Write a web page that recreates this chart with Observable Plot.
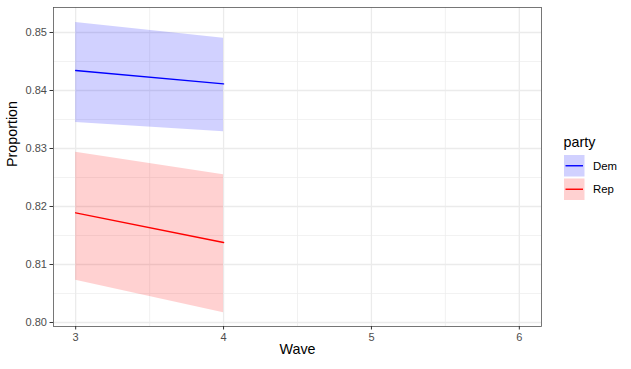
<!DOCTYPE html>
<html><head><meta charset="utf-8">
<script src="https://cdn.jsdelivr.net/npm/d3@7"></script>
<script src="https://cdn.jsdelivr.net/npm/@observablehq/plot@0.6"></script>
<style>
body{margin:0;background:#fff;font-family:"Liberation Sans",Arial,sans-serif;}
#wrap{position:relative;width:631px;height:369px;overflow:hidden;}
#legend{position:absolute;left:560px;top:130px;}
</style></head><body><div id="wrap"></div>
<script>
const parties = ["Dem", "Rep"];
const waves = [3, 4];
const demFit = [0.84345, 0.84115];
const demLower = [0.83448, 0.83288];
const demUpper = [0.85172, 0.84902];
const repFit = [0.81891, 0.81379];
const repLower = [0.80730, 0.80167];
const repUpper = [0.82937, 0.82546];
const partyColors = ["#0000ff", "#ff0000"];
const xTicks = [3, 4, 5, 6];
const yTicks = [0.80, 0.81, 0.82, 0.83, 0.84, 0.85];
const xMinor = [3.5, 4.5, 5.5];
const yMinor = [0.805, 0.815, 0.825, 0.835, 0.845];
const xLabel = "Wave";
const yLabel = "Proportion";
const legendTitle = "party";

const series = {Dem: [demFit, demLower, demUpper], Rep: [repFit, repLower, repUpper]};
const rows = [];
for (const p of parties) {
  const [fit, lo, hi] = series[p];
  waves.forEach((w, i) => rows.push({party: p, wave: w, fit: fit[i], lower: lo[i], upper: hi[i]}));
}

const chart = Plot.plot({
  width: 631,
  height: 369,
  marginLeft: 53,
  marginRight: 90,
  marginTop: 7,
  marginBottom: 43,
  style: {fontFamily: "Liberation Sans, Arial, sans-serif", background: "#fff"},
  x: {domain: [2.85, 6.15]},
  y: {domain: [0.79931, 0.85431]},
  color: {domain: parties, range: partyColors},
  marks: [
    Plot.gridX(xMinor, {stroke: "#ebebeb", strokeOpacity: 1, strokeWidth: 0.7}),
    Plot.gridY(yMinor, {stroke: "#ebebeb", strokeOpacity: 1, strokeWidth: 0.7}),
    Plot.gridX(xTicks, {stroke: "#ebebeb", strokeOpacity: 1, strokeWidth: 1.3}),
    Plot.gridY(yTicks, {stroke: "#ebebeb", strokeOpacity: 1, strokeWidth: 1.3}),
    Plot.areaY(rows, {x: "wave", y1: "lower", y2: "upper", z: "party", fill: "party", fillOpacity: 0.18}),
    Plot.line(rows, {x: "wave", y: "fit", z: "party", stroke: "party", strokeWidth: 1.4}),
    Plot.frame({stroke: "#555", strokeWidth: 0.8}),
    Plot.axisX(xTicks, {tickSize: 3.5, tickPadding: 3, fontSize: 11, color: "#4d4d4d", stroke: "#333", tickFormat: d3.format("d"), label: null}),
    Plot.axisY(yTicks, {tickSize: 3.5, tickPadding: 3, fontSize: 11, color: "#4d4d4d", stroke: "#333", tickFormat: d3.format(".2f"), label: null}),
    Plot.text([xLabel], {frameAnchor: "bottom", dy: 27.5, fontSize: 14.3, fill: "#000"}),
    Plot.text([yLabel], {frameAnchor: "left", dx: -41.5, rotate: -90, fontSize: 14.3, fill: "#000"})
  ]
});
const wrap = document.getElementById("wrap");
wrap.appendChild(chart);

const ns = "http://www.w3.org/2000/svg";
const leg = document.createElementNS(ns, "svg");
leg.setAttribute("id", "legend");
leg.setAttribute("width", 71);
leg.setAttribute("height", 80);
leg.style.fontFamily = "Liberation Sans, Arial, sans-serif";
let html = `<text x="3.5" y="16.7" font-size="14.3" fill="#000">${legendTitle}</text>`;
parties.forEach((p, i) => {
  const c = partyColors[i];
  const y0 = 25 + i * 23.5;
  html += `<rect x="4" y="${y0}" width="20.5" height="21.5" fill="${c}" fill-opacity="0.18"/>`;
  html += `<line x1="5.5" x2="23" y1="${y0 + 10.75}" y2="${y0 + 10.75}" stroke="${c}" stroke-width="1.4"/>`;
  html += `<text x="33" y="${y0 + 14.8}" font-size="11.4" fill="#000">${p}</text>`;
});
leg.innerHTML = html;
wrap.appendChild(leg);
</script></body></html>
